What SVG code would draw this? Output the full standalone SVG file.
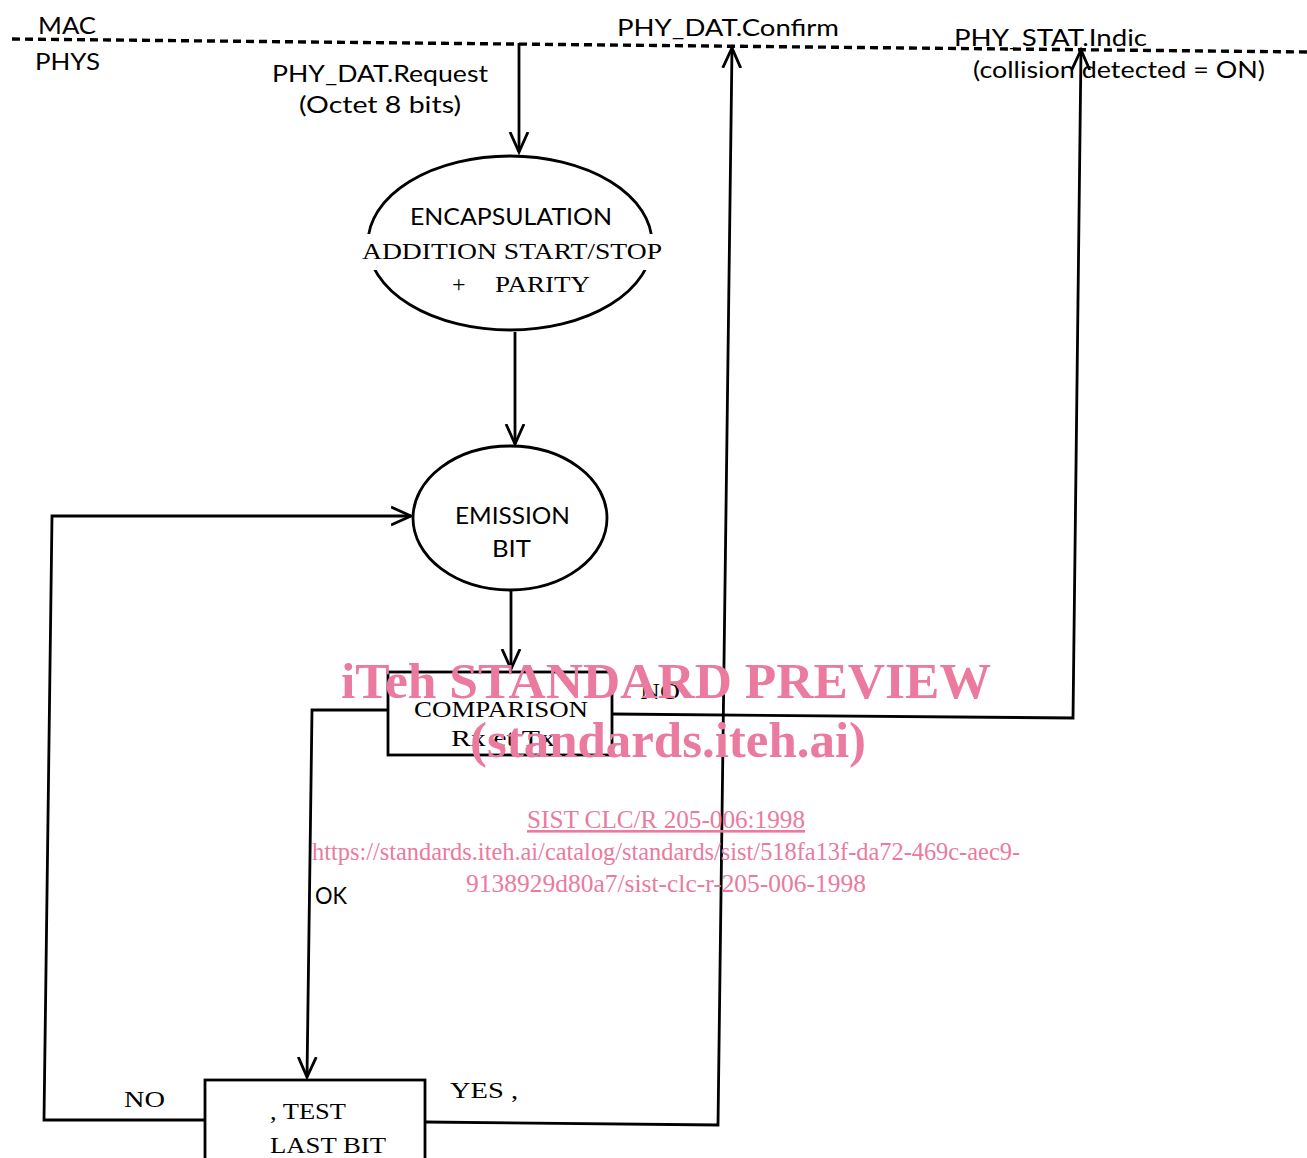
<svg xmlns="http://www.w3.org/2000/svg" width="1307" height="1158" viewBox="0 0 1307 1158">
<style>
.ln{fill:none;stroke:#000;stroke-width:2.8}
.dash{fill:none;stroke:#000;stroke-width:3.4;stroke-dasharray:8 5}
.sh{fill:none;stroke:#000;stroke-width:2.8}
.s{font-family:"Lato","DejaVu Sans",sans-serif;font-size:24px;fill:#000}
.r{font-family:"Liberation Serif","DejaVu Serif",serif;font-size:24px;fill:#000}
.wm{font-family:"Liberation Serif",serif;fill:#ea7a9e}
</style>
<defs>
<marker id="ah" markerUnits="userSpaceOnUse" markerWidth="24" markerHeight="24" refX="20" refY="10" orient="auto" viewBox="0 0 24 20">
<path d="M0,1 L20,10 L0,19" fill="none" stroke="#000" stroke-width="2.8"/>
</marker>
</defs>
<rect width="1307" height="1158" fill="#fff"/>
<line class="dash" x1="12" y1="39" x2="1307" y2="52"/>
<g id="labels-top">
<text class="s" x="38" y="34" textLength="58" lengthAdjust="spacingAndGlyphs">MAC</text>
<text class="s" x="35" y="70" textLength="65" lengthAdjust="spacingAndGlyphs">PHYS</text>
<text class="s" x="272" y="82" textLength="216" lengthAdjust="spacingAndGlyphs">PHY_DAT.Request</text>
<text class="s" x="299" y="113" textLength="162" lengthAdjust="spacingAndGlyphs">(Octet 8 bits)</text>
<text class="s" x="617" y="36" textLength="222" lengthAdjust="spacingAndGlyphs">PHY_DAT.Confirm</text>
<text class="s" x="954" y="46" textLength="193" lengthAdjust="spacingAndGlyphs">PHY_STAT.Indic</text>
<text class="s" x="973" y="78" textLength="292" lengthAdjust="spacingAndGlyphs">(collision detected = ON)</text>
</g>
<g id="connectors">
<line class="ln" x1="519" y1="43" x2="519" y2="152" marker-end="url(#ah)"/>
<line class="ln" x1="515" y1="332" x2="515" y2="444" marker-end="url(#ah)"/>
<line class="ln" x1="511" y1="591" x2="511" y2="669" marker-end="url(#ah)"/>
<polyline class="ln" points="612,714 1073,718 1081,50" marker-end="url(#ah)"/>
<polyline class="ln" points="388,710 312,710 307,1077" marker-end="url(#ah)"/>
<polyline class="ln" points="205,1120 44,1120 52,516 411,516" marker-end="url(#ah)"/>
<polyline class="ln" points="425,1122 718,1125 732,48" marker-end="url(#ah)"/>
</g>
<g id="encapsulation">
<ellipse class="sh" cx="510" cy="243" rx="142" ry="87"/>
<rect x="355" y="234" width="22" height="36" fill="#fff"/>
<rect x="643" y="234" width="22" height="36" fill="#fff"/>
<text class="s" x="410" y="225" textLength="202" lengthAdjust="spacingAndGlyphs">ENCAPSULATION</text>
<text class="r" x="362" y="259" textLength="300" lengthAdjust="spacingAndGlyphs">ADDITION START/STOP</text>
<text class="r" y="292"><tspan x="452">+</tspan><tspan x="495" textLength="95" lengthAdjust="spacingAndGlyphs">PARITY</tspan></text>
</g>
<g id="emission">
<ellipse class="sh" cx="510" cy="518" rx="97" ry="72"/>
<text class="s" x="455" y="524" textLength="115" lengthAdjust="spacingAndGlyphs">EMISSION</text>
<text class="s" x="492" y="557" textLength="39" lengthAdjust="spacingAndGlyphs">BIT</text>
</g>
<g id="comparison">
<rect class="sh" x="388" y="672" width="224" height="83"/>
<text class="r" x="414" y="717" textLength="174" lengthAdjust="spacingAndGlyphs">COMPARISON</text>
<text class="r" x="451" y="746" textLength="104" lengthAdjust="spacingAndGlyphs">Rx et Tx</text>
</g>
<g id="test">
<rect class="sh" x="205" y="1080" width="220" height="90"/>
<text class="r" x="270" y="1119" textLength="76" lengthAdjust="spacingAndGlyphs">, TEST</text>
<text class="r" x="270" y="1153" textLength="116" lengthAdjust="spacingAndGlyphs">LAST BIT</text>
</g>
<g id="edge-labels">
<text class="r" x="640" y="699" textLength="40" lengthAdjust="spacingAndGlyphs">NO</text>
<text class="s" x="315" y="904" textLength="32" lengthAdjust="spacingAndGlyphs">OK</text>
<text class="r" x="124" y="1107" textLength="41" lengthAdjust="spacingAndGlyphs">NO</text>
<text class="r" x="450" y="1098" textLength="68" lengthAdjust="spacingAndGlyphs">YES ,</text>
</g>
<g id="watermark">
<text class="wm" x="666" y="698" font-size="50" font-weight="bold" text-anchor="middle" textLength="650" lengthAdjust="spacingAndGlyphs">iTeh STANDARD PREVIEW</text>
<text class="wm" x="668" y="757" font-size="50" font-weight="bold" text-anchor="middle" textLength="396" lengthAdjust="spacingAndGlyphs">(standards.iteh.ai)</text>
<text class="wm" x="666" y="828" font-size="26" text-anchor="middle" text-decoration="underline" textLength="278" lengthAdjust="spacingAndGlyphs">SIST CLC/R 205-006:1998</text>
<text class="wm" x="666" y="860" font-size="26" text-anchor="middle" textLength="708" lengthAdjust="spacingAndGlyphs">https://standards.iteh.ai/catalog/standards/sist/518fa13f-da72-469c-aec9-</text>
<text class="wm" x="666" y="892" font-size="26" text-anchor="middle" textLength="400" lengthAdjust="spacingAndGlyphs">9138929d80a7/sist-clc-r-205-006-1998</text>
</g>
</svg>
